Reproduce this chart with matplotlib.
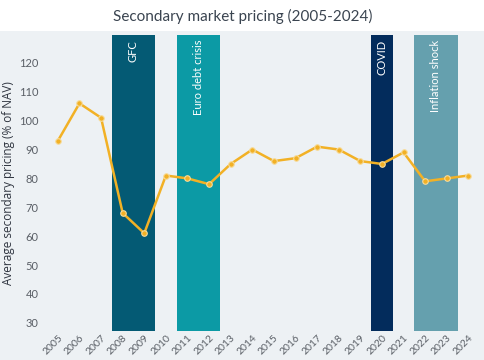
import matplotlib
matplotlib.use("Agg")
import matplotlib.pyplot as plt
from matplotlib.patches import Rectangle

years = list(range(2005, 2025))
pricing = [93, 106, 101, 68, 61, 81, 80, 78, 85, 90, 86, 87, 91, 90, 86, 85, 89, 79, 80, 81]

event_labels = ["GFC", "Euro debt crisis", "COVID", "Inflation shock"]
event_start = [2008, 2011, 2020, 2022]
event_end = [2009, 2012, 2020, 2023]
event_colors = ["#045a74", "#0c9aa5", "#032c5c", "#65a0ae"]

plt.rcParams['font.family'] = ['Lato', 'DejaVu Sans']

fig = plt.figure(figsize=(4.85, 3.6), dpi=100)
fig.patch.set_facecolor("white")
fig.patches.append(Rectangle((0, 0), 1, 0.914, transform=fig.transFigure,
                             facecolor="#edf1f4", edgecolor="none", zorder=-10))

ax = fig.add_axes([0.097, 0.081, 0.891, 0.822])
ax.set_facecolor("none")

for lab, s, e, c in zip(event_labels, event_start, event_end, event_colors):
    ax.axvspan(s - 0.5, e + 0.5, color=c, lw=0, zorder=1)
    ax.text((s + e) / 2, 128.0, lab, rotation=90, ha="center", va="top",
            color="white", fontsize=8, zorder=2)

ax.plot(years, pricing, color="#f2b125", lw=1.8, marker="o", markersize=4,
        markerfacecolor="#f2b125", markeredgecolor="#f7dc9c", markeredgewidth=0.8,
        zorder=3)

ax.set_xlim(2004.5, 2024.5)
ax.set_ylim(27.2, 129.7)
ax.set_yticks(range(30, 121, 10))
ax.set_xticks(years)
ax.set_xticklabels([str(y) for y in years], rotation=45, ha="right",
                   rotation_mode="anchor")
ax.tick_params(axis="both", length=0, labelcolor="#5a5f66")
ax.tick_params(axis="y", pad=6, labelsize=8)
ax.tick_params(axis="x", pad=2, labelsize=7.5)
for sp in ax.spines.values():
    sp.set_visible(False)

ax.set_ylabel("Average secondary pricing (% of NAV)", fontsize=8.5,
              color="#2f3540", family=["Open Sans", "DejaVu Sans"])
ax.yaxis.set_label_coords(-0.074, 0.5)
fig.text(0.5, 0.955, "Secondary market pricing (2005-2024)", ha="center",
         va="center", fontsize=11, color="#3a4450")

fig.savefig("out.png", dpi=100)
